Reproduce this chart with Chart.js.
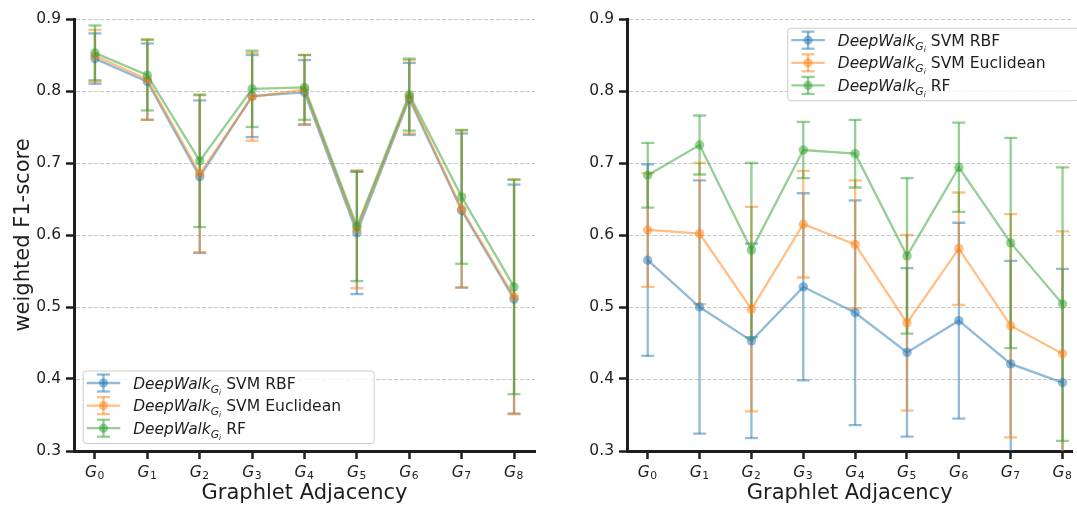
<!DOCTYPE html>
<html><head><meta charset="utf-8">
<script src="https://cdn.jsdelivr.net/npm/chart.js@4.4.0/dist/chart.umd.min.js"></script>
<style>
html,body{margin:0;padding:0;background:#fff;overflow:hidden}
#wrap{position:relative;width:1077px;height:506px}
canvas{position:absolute;left:0;top:0}
</style></head><body>
<div id="wrap"><canvas id="left" width="1077" height="506"></canvas><canvas id="right" width="1077" height="506"></canvas></div>
<script>
// ---------- data ----------
const categoryLetter = 'G';
const categorySubs = ['0','1','2','3','4','5','6','7','8'];
const yTicks = [0.3,0.4,0.5,0.6,0.7,0.8,0.9];
const seriesNames = ['SVM RBF','SVM Euclidean','RF'];
const legendBase = 'DeepWalk', legendSub = 'G', legendSubSub = 'i';
const xTitle = 'Graphlet Adjacency';
const yTitle = 'weighted F1-score';

// left panel
const leftRbfMean  = [0.845,0.813,0.681,0.793,0.798,0.603,0.789,0.634,0.511];
const leftRbfStd   = [0.035,0.053,0.106,0.057,0.045,0.085,0.050,0.107,0.159];
const leftEucMean  = [0.849,0.816,0.685,0.792,0.802,0.608,0.792,0.636,0.514];
const leftEucStd   = [0.036,0.056,0.109,0.061,0.048,0.082,0.051,0.109,0.163];
const leftRfMean   = [0.853,0.822,0.703,0.803,0.805,0.612,0.795,0.653,0.528];
const leftRfStd    = [0.038,0.049,0.092,0.053,0.045,0.076,0.050,0.093,0.149];
// right panel
const rightRbfMean = [0.565,0.500,0.453,0.528,0.492,0.437,0.481,0.421,0.395];
const rightRbfStd  = [0.133,0.176,0.135,0.130,0.156,0.117,0.136,0.143,0.158];
const rightEucMean = [0.607,0.602,0.497,0.615,0.587,0.478,0.581,0.474,0.435];
const rightEucStd  = [0.079,0.098,0.142,0.074,0.089,0.122,0.078,0.155,0.170];
const rightRfMean  = [0.683,0.725,0.579,0.718,0.713,0.571,0.694,0.589,0.504];
const rightRfStd   = [0.045,0.041,0.121,0.039,0.047,0.108,0.062,0.146,0.190];

// ---------- style ----------
const COLORS = ['rgba(31,119,180,0.5)','rgba(255,127,14,0.5)','rgba(44,160,44,0.5)'];
const INK = '#1e1e1e';
const FAM = '"DejaVu Sans", sans-serif';
Chart.defaults.font.family = FAM;
Chart.defaults.color = INK;

function seg(ctx,x1,y1,x2,y2){ctx.beginPath();ctx.moveTo(x1,y1);ctx.lineTo(x2,y2);ctx.stroke();}

const gridPlugin = {id:'mplGrid', beforeDatasetsDraw(chart){
  const {ctx, chartArea:ca, scales:{y}} = chart;
  ctx.save(); ctx.strokeStyle='#c8c8c8'; ctx.lineWidth=1; ctx.setLineDash([4,2]);
  yTicks.forEach(v=>{ if (v < 0.35) return;
    const py = Math.round(y.getPixelForValue(v))+0.5;
    seg(ctx, ca.left+2, py, ca.right, py); });
  ctx.restore();
}};

function makeErrPlugin(stds){ return {id:'errbars', beforeDatasetsDraw(chart){
  const {ctx, chartArea:ca, scales:{x,y}} = chart;
  ctx.save(); ctx.beginPath(); ctx.rect(ca.left, ca.top-2, ca.right-ca.left, ca.bottom-ca.top+2); ctx.clip();
  ctx.lineWidth = 2.3; ctx.lineCap = 'butt';
  chart.data.datasets.forEach((ds,k)=>{
    ctx.strokeStyle = ds.borderColor;
    ds.data.forEach((p,j)=>{
      const s = stds[k][j];
      const px = x.getPixelForValue(p.x);
      const t = y.getPixelForValue(p.y + s), b = y.getPixelForValue(p.y - s);
      seg(ctx, px, t, px, b);
      seg(ctx, px-6.5, t, px+6.5, t);
      seg(ctx, px-6.5, b, px+6.5, b);
    });
  });
  ctx.restore();
}};}

// x tick labels rendered like mathtext: italic G with upright subscript digit
const xLabelPlugin = {id:'mplXLabels', afterDraw(chart){
  const {ctx, chartArea:ca, scales:{x}} = chart;
  ctx.save(); ctx.fillStyle = INK; ctx.textBaseline='alphabetic'; ctx.textAlign='left';
  categorySubs.forEach((sub,j)=>{
    const px = x.getPixelForValue(j);
    ctx.font = 'italic 15.5px '+FAM; const wG = ctx.measureText(categoryLetter).width;
    ctx.font = '10.8px '+FAM; const wS = ctx.measureText(sub).width;
    const x0 = px - (wG + wS)/2 - 0.5;
    const base = ca.bottom + 25.8;
    ctx.font = 'italic 15.5px '+FAM; ctx.fillText(categoryLetter, x0, base);
    ctx.font = '10.8px '+FAM; ctx.fillText(sub, x0 + wG + 0.5, base + 2.4);
  });
  ctx.restore();
}};

function makeLegendPlugin(loc){ return {id:'mplLegend', afterDraw(chart){
  const {ctx, chartArea:ca} = chart;
  const W = 291, H = 72.5;
  const x0 = loc==='ll' ? ca.left+8.7 : ca.left+160.3;
  const y0 = loc==='ll' ? ca.bottom-8-H : ca.top+8.7;
  ctx.save();
  ctx.beginPath(); ctx.roundRect(x0+0.5, y0+0.5, W, H, 3);
  ctx.fillStyle='rgba(255,255,255,0.8)'; ctx.fill();
  ctx.strokeStyle='#cccccc'; ctx.lineWidth=1; ctx.stroke();
  seriesNames.forEach((name,k)=>{
    const ry = y0 + 12.5 + k*22.6;
    const hx0 = x0+4, hx1 = x0+37.5, hc = (hx0+hx1)/2;
    ctx.strokeStyle = COLORS[k]; ctx.lineWidth = 2.3;
    seg(ctx,hx0,ry,hx1,ry);
    seg(ctx,hc,ry-8.5,hc,ry+8.5);
    seg(ctx,hc-6.5,ry-8.5,hc+6.5,ry-8.5);
    seg(ctx,hc-6.5,ry+8.5,hc+6.5,ry+8.5);
    ctx.fillStyle = COLORS[k]; ctx.beginPath(); ctx.arc(hc,ry,4.6,0,Math.PI*2); ctx.fill();
    let tx = x0 + 50.5; const base = ry + 5.6;
    ctx.fillStyle = INK; ctx.textAlign='left'; ctx.textBaseline='alphabetic';
    ctx.font = 'italic 15.4px '+FAM; ctx.fillText(legendBase, tx, base); tx += ctx.measureText(legendBase).width;
    ctx.font = 'italic 10.8px '+FAM; ctx.fillText(legendSub, tx, base+4); tx += ctx.measureText(legendSub).width;
    ctx.font = 'italic 7.6px '+FAM; ctx.fillText(legendSubSub, tx, base+6); tx += ctx.measureText(legendSubSub).width;
    ctx.font = '15.6px '+FAM; ctx.fillText(' '+name, tx, base);
  });
  ctx.restore();
}};}

function makeChart(id, means, stds, opt){
  const datasets = means.map((m,k)=>({
    label: legendBase+'_'+legendSub+legendSubSub+' '+seriesNames[k],
    data: m.map((v,j)=>({x:j, y:v})),
    borderColor: COLORS[k], backgroundColor: COLORS[k],
    pointBackgroundColor: COLORS[k], pointBorderWidth: 0, pointRadius: 4.7,
    borderWidth: 2.3, tension: 0, order: 3-k, clip: 2
  }));
  return new Chart(document.getElementById(id), {
    type:'line',
    data:{datasets},
    options:{
      responsive:false, animation:false, events:[],
      layout:{padding:{left:opt.padLeft, right:opt.padRight, top:19, bottom:0}},
      plugins:{legend:{display:false}, tooltip:{enabled:false}},
      scales:{
        x:{type:'linear', min:-0.4, max:opt.xMax,
          afterFit:s=>{s.height=55; s.paddingLeft=0; s.paddingRight=0;},
          afterBuildTicks:s=>{s.ticks=categorySubs.map((c,j)=>({value:j}));},
          ticks:{display:false},
          grid:{drawOnChartArea:false, tickColor:INK, tickWidth:2.5, tickLength:8},
          border:{color:INK, width:3},
          title:{display:true, text:xTitle, font:{size:21}, color:INK, padding:{top:0,bottom:0}}
        },
        y:{type:'linear', min:0.3, max:0.9,
          afterFit:s=>{s.width=74; s.paddingTop=0; s.paddingBottom=0;},
          afterBuildTicks:s=>{s.ticks=yTicks.map(v=>({value:v}));},
          ticks:{callback:(v)=>Number(v).toFixed(1), font:{size:15.5}, color:INK, padding:5},
          grid:{drawOnChartArea:false, tickColor:INK, tickWidth:2.5, tickLength:8},
          border:{color:INK, width:3},
          title:{display:opt.showYTitle, text:yTitle, font:{size:21}, color:INK, padding:{top:11,bottom:0}}
        }
      }
    },
    plugins:[gridPlugin, makeErrPlugin(stds), xLabelPlugin, makeLegendPlugin(opt.loc)]
  });
}

makeChart('left', [leftRbfMean,leftEucMean,leftRfMean], [leftRbfStd,leftEucStd,leftRfStd],
  {padLeft:0, padRight:1077-535, xMax:8.4, showYTitle:true, loc:'ll'});
makeChart('right', [rightRbfMean,rightEucMean,rightRfMean], [rightRbfStd,rightEucStd,rightRfStd],
  {padLeft:627-74, padRight:0, xMax:8.188, showYTitle:false, loc:'ur'});
</script>
</body></html>
